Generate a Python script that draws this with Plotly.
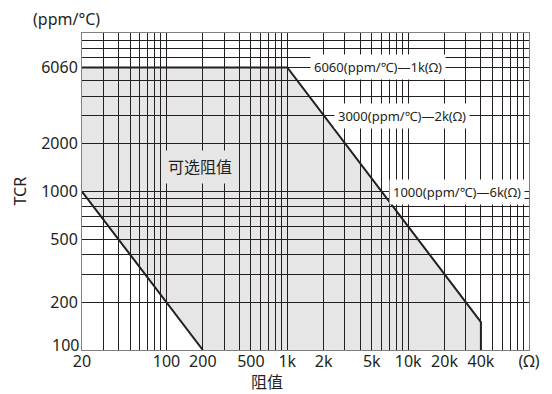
import math
import plotly.graph_objects as go

# ---- data ----
# selectable region boundary (resistance in ohm, TCR in ppm/°C)
region_r = [20, 20, 1000, 40000, 40000, 200]
region_tcr = [1000, 6060, 6060, 150, 100, 100]

# lower-left boundary line
lower_r = [20, 200]
lower_tcr = [1000, 100]

# upper-right boundary line
upper_r = [20, 1000, 40000, 40000]
upper_tcr = [6060, 6060, 150, 100]

# x axis ticks / grid
x_label_vals = [20, 100, 200, 500, 1000, 2000, 5000, 10000, 20000, 40000, 100000]
x_label_text = ["20", "100", "200", "500", "1k", "2k", "5k", "10k", "20k", "40k", "(Ω)"]
x_grid_vals = (list(range(20, 100, 10)) + list(range(100, 1000, 100))
               + list(range(1000, 10000, 1000)) + list(range(10000, 100001, 10000)))

# y axis ticks / grid
y_label_vals = [100, 200, 500, 1000, 2000, 6060]
y_label_text = ["100", "200", "500", "1000", "2000", "6060"]
y_grid_vals = (list(range(100, 1000, 100)) + [1000, 2000, 3000, 4000, 5000, 6060,
                                              7000, 8000, 9000, 10000])

# callouts: (text, resistance at line, tcr)
callouts = [
    ("6060(ppm/℃)—1k(Ω)", 1000, 6060, 0.19),
    ("3000(ppm/℃)—2k(Ω)", 2000, 3000, 0.085),
    ("1000(ppm/℃)—6k(Ω)", 6000, 1000, 0.06),
]

FONT = "Noto Sans, Noto Sans CJK SC, sans-serif"
INK = "#231f20"
FILL_SOLID = "#e6e6e7"


def build_ticks(grid, lab_vals, lab_text, skip=()):
    lab = dict(zip(lab_vals, lab_text))
    vals = sorted(set(grid) | set(lab_vals))
    return vals, [("" if v in skip else lab.get(v, "")) for v in vals]


xv, xt = build_ticks(x_grid_vals, x_label_vals, x_label_text)
# the bottom y label is drawn as a note nudged up (as in the original) to clear "20"
yv, yt = build_ticks(y_grid_vals, y_label_vals, y_label_text, skip=(y_label_vals[0],))

fig = go.Figure()
fig.add_trace(go.Scatter(x=region_r, y=region_tcr, fill="toself",
                         fillcolor="rgba(35,31,32,0.11)", mode="none",
                         hoverinfo="skip", showlegend=False))
fig.add_trace(go.Scatter(x=lower_r, y=lower_tcr, mode="lines",
                         line=dict(color=INK, width=2), showlegend=False))
fig.add_trace(go.Scatter(x=upper_r, y=upper_tcr, mode="lines",
                         line=dict(color=INK, width=2), showlegend=False))

for text, r, t, off in callouts:
    fig.add_annotation(x=math.log10(r) + off, y=math.log10(t), xref="x", yref="y",
                       text=text, showarrow=False, xanchor="left", yanchor="middle",
                       bgcolor="white", borderpad=3,
                       font=dict(family=FONT, size=13, color=INK))


def paper_note(text, px, py, size, xanchor="center", **kw):
    fig.add_annotation(x=(px - 82) / 458, y=(350 - py) / 317, xref="paper", yref="paper",
                       text=text, showarrow=False, xanchor=xanchor, yanchor="middle",
                       font=dict(family=FONT, size=size, color=INK), **kw)


paper_note("可选阻值", 203, 167, 16, bgcolor=FILL_SOLID, borderpad=5)
paper_note("阻值", 272, 382, 16)
paper_note("(ppm/°C)", 66, 19, 16)
paper_note("TCR", 18, 191, 16, textangle=-90)
paper_note(y_label_text[0], 80, 345, 16, xanchor="right", borderpad=0)

axis_common = dict(type="log", showgrid=True, gridcolor=INK, gridwidth=1,
                   showline=True, linecolor="#808080", linewidth=1, mirror=True,
                   ticks="", zeroline=False, tickmode="array",
                   tickfont=dict(family=FONT, size=16, color=INK))

fig.update_xaxes(range=[math.log10(20), 5], tickvals=xv, ticktext=xt,
                 ticklabelstandoff=-3, **axis_common)
fig.update_yaxes(range=[2, 4], tickvals=yv, ticktext=yt, **axis_common)

fig.update_layout(width=552, height=394, margin=dict(l=82, r=12, t=33, b=44),
                  plot_bgcolor="white", paper_bgcolor="white", showlegend=False,
                  font=dict(family=FONT, color=INK))

fig.write_html("out.html", config={"displayModeBar": False},
               post_script="document.body.style.margin='0';document.body.style.overflow='hidden';")
